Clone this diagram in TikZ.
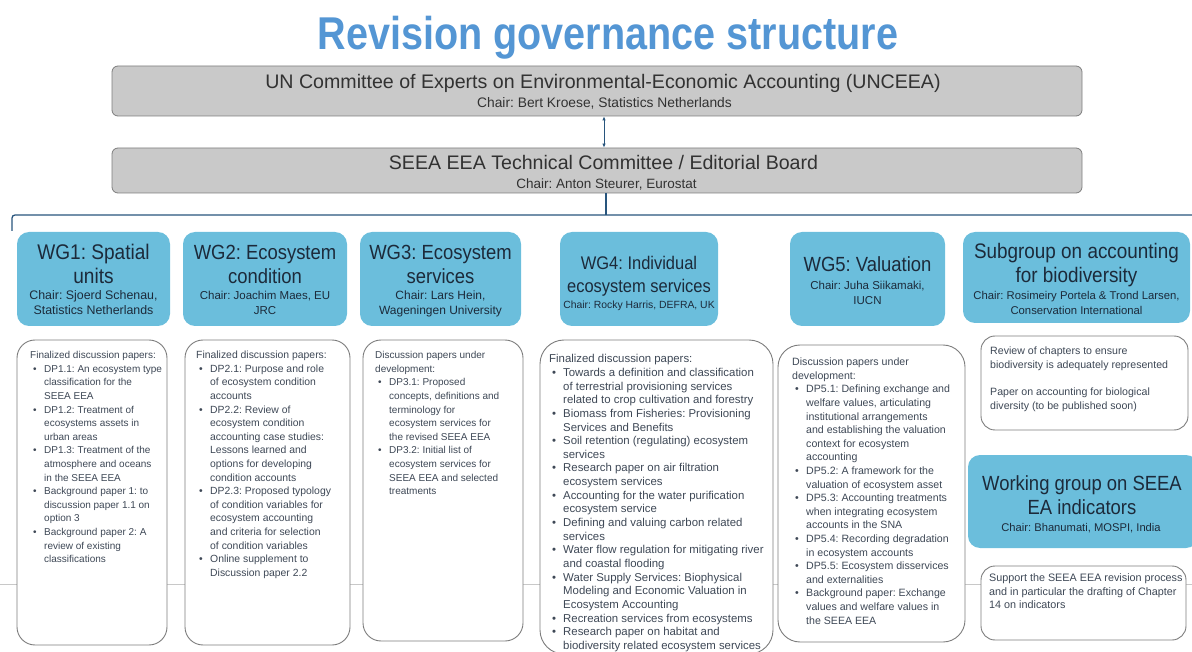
\documentclass[tikz,border=0pt]{standalone}
\usepackage{fontspec}
\setmainfont{Liberation Sans}
\newfontfamily\titlefont[FakeStretch=0.86]{Liberation Sans}
\newfontfamily\hdrfont[FakeStretch=0.9]{Liberation Sans}
\usetikzlibrary{arrows.meta}
\definecolor{titleblue}{RGB}{84,150,212}
\definecolor{hdrblue}{RGB}{107,190,220}
\definecolor{boxgray}{RGB}{201,201,201}
\definecolor{edgegray}{RGB}{125,125,125}
\definecolor{connblue}{RGB}{40,85,125}
\definecolor{hdrtxt}{RGB}{28,42,58}
\definecolor{bodytxt}{RGB}{62,72,86}
\definecolor{graytxt}{RGB}{50,50,50}
\definecolor{faintgray}{RGB}{200,200,200}
\newcommand\mybul{\makebox[14pt][l]{\hspace{3pt}\textbullet}}
\newcommand\myind{\hspace*{14pt}}
\tikzset{
  graybox/.style={draw=edgegray, fill=boxgray, rounded corners=6pt, line width=0.8pt, inner sep=0pt},
  hdrbox/.style={fill=hdrblue, rounded corners=12pt, inner sep=0pt},
  txtbox/.style={draw=edgegray, fill=white, rounded corners=18pt, line width=0.9pt, inner sep=0pt},
  body/.style={anchor=north west, inner sep=0pt, align=left, text=bodytxt, font=\fontsize{#1}{13.6}\selectfont},
  body/.default=10,
  hdr/.style={anchor=north, inner sep=0pt, align=center, text=hdrtxt, font=\hdrfont\fontsize{#1}{24}\selectfont},
  hdr/.default=20.5,
  chair/.style={anchor=north, inner sep=0pt, align=center, text=hdrtxt, font=\fontsize{#1}{14.5}\selectfont},
  chair/.default=11.5,
  conn/.style={draw=connblue, line width=1.3pt},
  bgline/.style={draw=faintgray, line width=0.8pt}
}
\begin{document}
\frenchspacing
\begin{tikzpicture}[x=1pt, y=-1pt]
\useasboundingbox (0,0) rectangle (1192,652);
\clip (0,0) rectangle (1192,652);
% faint background line
\coordinate (bgl) at (0,584);
\coordinate (bgr) at (1192,584);
\draw[bgline] (bgl) -- (bgr);
% title
\node[anchor=base, inner sep=0pt, text=titleblue, font=\titlefont\bfseries\fontsize{46}{52}\selectfont] (title) at (608,50) {Revision governance structure};
% top gray boxes
\node[graybox, minimum width=970pt, minimum height=50pt] (g1) at (597,91) {};
\node[anchor=base, inner sep=0pt, text=graytxt, font=\fontsize{19.6}{22}\selectfont] (g1t) at (603,89) {UN Committee of Experts on Environmental-Economic Accounting (UNCEEA)};
\node[anchor=base, inner sep=0pt, text=graytxt, font=\fontsize{13.8}{14}\selectfont] (g1c) at (604.5,107.5) {Chair: Bert Kroese, Statistics Netherlands};
\node[graybox, minimum width=970pt, minimum height=45pt] (g2) at (597,170.5) {};
\node[anchor=base, inner sep=0pt, text=graytxt, font=\fontsize{19.6}{22}\selectfont] (g2t) at (603.5,169.5) {SEEA EEA Technical Committee / Editorial Board};
\node[anchor=base, inner sep=0pt, text=graytxt, font=\fontsize{13.5}{14}\selectfont] (g2c) at (606.5,188.5) {Chair: Anton Steurer, Eurostat};
% connectors
\coordinate (ax) at (604,0);
\draw[draw=connblue, line width=1pt, {Latex[length=4pt,width=3.5pt]}-{Latex[length=4pt,width=3.5pt]}] (g1.south -| ax) -- (g2.north -| ax);
\coordinate (brk) at (606,215);
\coordinate (bl) at (12,231);
\coordinate (br) at (1192,215);
\draw[conn] (g2.south -| brk) -- (brk);
\draw[conn, rounded corners=3pt] (bl) |- (br);
% header boxes
\node[hdrbox, minimum width=153pt, minimum height=94pt] (h1) at (93.5,279) {};
\node[hdr=21.2] (h1t) at (93.5,242.7) {\strut WG1: Spatial\\units};
\node[chair=12.4] (h1c) at (93.5,289.3) {\strut Chair: Sjoerd Schenau,\\Statistics Netherlands};
\node[hdrbox, minimum width=164pt, minimum height=94pt] (h2) at (265,279) {};
\node[hdr] (h2t) at (265,242.7) {\strut WG2: Ecosystem\\condition};
\node[chair] (h2c) at (265,289.3) {\strut Chair: Joachim Maes, EU\\JRC};
\node[hdrbox, minimum width=161pt, minimum height=94pt] (h3) at (440.5,279) {};
\node[hdr] (h3t) at (440.5,242.7) {\strut WG3: Ecosystem\\services};
\node[chair=12] (h3c) at (440.5,289.3) {\strut Chair: Lars Hein,\\Wageningen University};
\node[hdrbox, minimum width=158pt, minimum height=94pt] (h4) at (639,279) {};
\node[hdr=18.3, font=\hdrfont\fontsize{18.3}{23}\selectfont] (h4t) at (639,253) {\strut WG4: Individual\\ecosystem services};
\node[chair=10.4] (h4c) at (639,298.5) {\strut Chair: Rocky Harris, DEFRA, UK};
\node[hdrbox, minimum width=155pt, minimum height=94pt] (h5) at (867.5,279) {};
\node[hdr] (h5t) at (867.5,254.7) {\strut WG5: Valuation};
\node[chair] (h5c) at (867.5,279.3) {\strut Chair: Juha Siikamaki,\\IUCN};
\node[hdrbox, minimum width=227pt, minimum height=91pt] (h6) at (1076.5,277.5) {};
\node[hdr=21] (h6t) at (1076.5,241.7) {\strut Subgroup on accounting\\for biodiversity};
\node[chair=11.3] (h6c) at (1076.5,289.3) {\strut Chair: Rosimeiry Portela \& Trond Larsen,\\Conservation International};
\node[hdrbox, minimum width=230pt, minimum height=93pt] (h7) at (1083,501.5) {};
\node[hdr] (h7t) at (1082,473.7) {\strut Working group on SEEA\\EA indicators};
\node[chair=11.2] (h7c) at (1081,521.3) {\strut Chair: Bhanumati, MOSPI, India};
% text boxes
\node[txtbox, minimum width=150pt, minimum height=305pt] (t1) at (92,492.5) {};
\node[body] (t1t) at (30,349) {\strut Finalized discussion papers:\\
\mybul DP1.1: An ecosystem type\\
\myind classification for the\\
\myind SEEA EEA\\
\mybul DP1.2: Treatment of\\
\myind ecosystems assets in\\
\myind urban areas\\
\mybul DP1.3: Treatment of the\\
\myind atmosphere and oceans\\
\myind in the SEEA EEA\\
\mybul Background paper 1: to\\
\myind discussion paper 1.1 on\\
\myind option 3\\
\mybul Background paper 2: A\\
\myind review of existing\\
\myind classifications};
\node[txtbox, minimum width=165pt, minimum height=305pt] (t2) at (267.5,492.5) {};
\node[body=10.4] (t2t) at (196,349) {\strut Finalized discussion papers:\\
\mybul DP2.1: Purpose and role\\
\myind of ecosystem condition\\
\myind accounts\\
\mybul DP2.2: Review of\\
\myind ecosystem condition\\
\myind accounting case studies:\\
\myind Lessons learned and\\
\myind options for developing\\
\myind condition accounts\\
\mybul DP2.3: Proposed typology\\
\myind of condition variables for\\
\myind ecosystem accounting\\
\myind and criteria for selection\\
\myind of condition variables\\
\mybul Online supplement to\\
\myind Discussion paper 2.2};
\node[txtbox, minimum width=160pt, minimum height=301pt] (t3) at (443,490.5) {};
\node[body] (t3t) at (375,349) {\strut Discussion papers under\\
development:\\
\mybul DP3.1: Proposed\\
\myind concepts, definitions and\\
\myind terminology for\\
\myind ecosystem services for\\
\myind the revised SEEA EEA\\
\mybul DP3.2: Initial list of\\
\myind ecosystem services for\\
\myind SEEA EEA and selected\\
\myind treatments};
\node[txtbox, rounded corners=24pt, minimum width=233pt, minimum height=314pt] (t4) at (656.5,497) {};
\node[body=11.4, font=\fontsize{11.4}{13.65}\selectfont] (t4t) at (549,353) {\strut Finalized discussion papers:\\
\mybul Towards a definition and classification\\
\myind of terrestrial provisioning services\\
\myind related to crop cultivation and forestry\\
\mybul Biomass from Fisheries: Provisioning\\
\myind Services and Benefits\\
\mybul Soil retention (regulating) ecosystem\\
\myind services\\
\mybul Research paper on air filtration\\
\myind ecosystem services\\
\mybul Accounting for the water purification\\
\myind ecosystem service\\
\mybul Defining and valuing carbon related\\
\myind services\\
\mybul Water flow regulation for mitigating river\\
\myind and coastal flooding\\
\mybul Water Supply Services: Biophysical\\
\myind Modeling and Economic Valuation in\\
\myind Ecosystem Accounting\\
\mybul Recreation services from ecosystems\\
\mybul Research paper on habitat and\\
\myind biodiversity related ecosystem services};
\node[txtbox, rounded corners=22pt, minimum width=187pt, minimum height=297pt] (t5) at (871.5,493.5) {};
\node[body=10.6] (t5t) at (792,356) {\strut Discussion papers under\\
development:\\
\mybul DP5.1: Defining exchange and\\
\myind welfare values, articulating\\
\myind institutional arrangements\\
\myind and establishing the valuation\\
\myind context for ecosystem\\
\myind accounting\\
\mybul DP5.2: A framework for the\\
\myind valuation of ecosystem asset\\
\mybul DP5.3: Accounting treatments\\
\myind when integrating ecosystem\\
\myind accounts in the SNA\\
\mybul DP5.4: Recording degradation\\
\myind in ecosystem accounts\\
\mybul DP5.5: Ecosystem disservices\\
\myind and externalities\\
\mybul Background paper: Exchange\\
\myind values and welfare values in\\
\myind the SEEA EEA};
\node[txtbox, rounded corners=14pt, minimum width=207pt, minimum height=94pt] (t6) at (1084.5,383) {};
\node[body=10.6] (t6t) at (990,345) {\strut Review of chapters to ensure\\
biodiversity is adequately represented\\[13.6pt]
Paper on accounting for biological\\
diversity (to be published soon)};
\node[txtbox, rounded corners=14pt, minimum width=205pt, minimum height=74pt] (t7) at (1083.5,603) {};
\node[body=10.8] (t7t) at (989,572) {\strut Support the SEEA EEA revision process\\
and in particular the drafting of Chapter\\
14 on indicators};
\end{tikzpicture}
\end{document}
